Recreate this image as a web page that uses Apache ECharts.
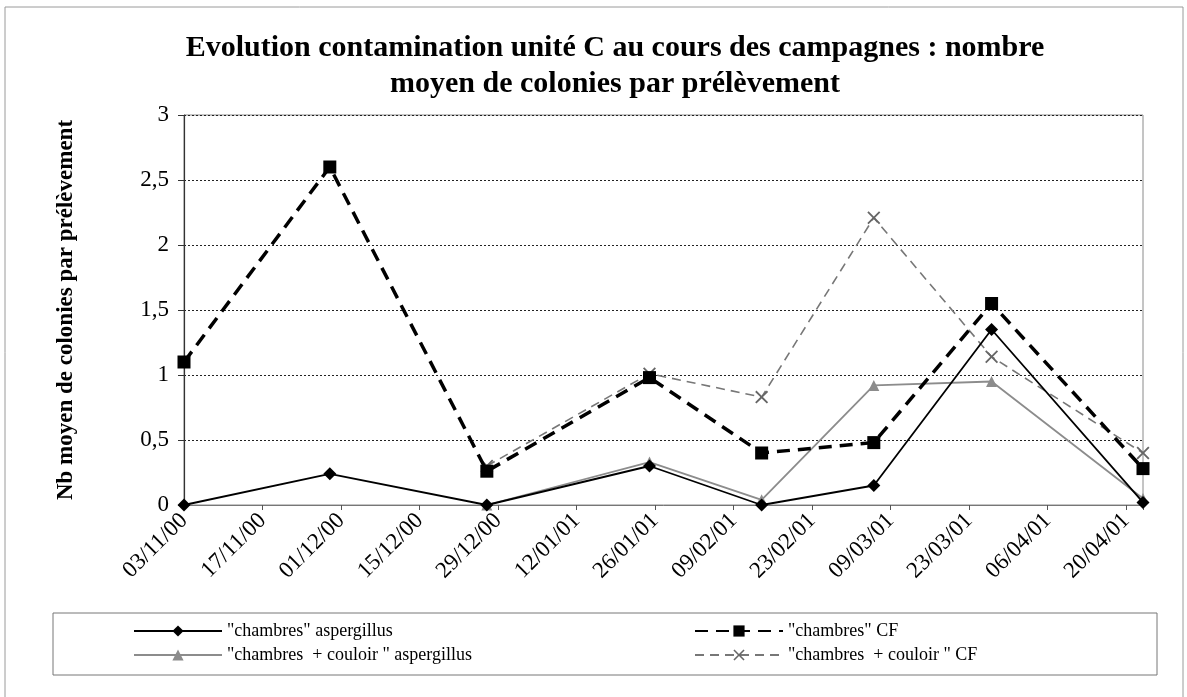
<!DOCTYPE html>
<html>
<head>
<meta charset="utf-8">
<script src="https://cdn.jsdelivr.net/npm/echarts@6/dist/echarts.min.js"></script>
<style>
html,body{margin:0;padding:0;background:#fff;}
#chart{width:1187px;height:697px;}
</style>
</head>
<body>
<div id="chart"></div>
<script>
// ---- data ----
const startDate = '2000-11-03';
const endDate = '2001-04-23';
const sampleDates = ['2000-11-03','2000-11-29','2000-12-27','2001-01-25','2001-02-14','2001-03-06','2001-03-27','2001-04-23'];
const tickLabels = ['03/11/00','17/11/00','01/12/00','15/12/00','29/12/00','12/01/01','26/01/01','09/02/01','23/02/01','09/03/01','23/03/01','06/04/01','20/04/01'];
const seriesNames = ['"chambres" aspergillus','"chambres" CF','"chambres  + couloir " aspergillus','"chambres  + couloir " CF'];
const chambresAsp = [0, 0.24, 0, 0.30, 0, 0.15, 1.35, 0.02];
const chambresCF = [1.10, 2.60, 0.26, 0.98, 0.40, 0.48, 1.55, 0.28];
const couloirAsp = [null, null, 0, 0.33, 0.04, 0.92, 0.95, 0.05];
const couloirCF = [null, null, 0.30, 1.01, 0.83, 2.21, 1.14, 0.40];

const DAY = 86400000;
function dayOffset(s){ return Math.round((Date.parse(s) - Date.parse(startDate)) / DAY); }
const xs = sampleDates.map(dayOffset);
const xMax = dayOffset(endDate);
function pairs(vals){ return vals.map((v,i)=>[xs[i], v]); }

const serif = 'Liberation Serif, Times New Roman, serif';
const xShape = 'path://M0,1L1,0L5,4L9,0L10,1L6,5L10,9L9,10L5,6L1,10L0,9L4,5Z';

const chart = echarts.init(document.getElementById('chart'));
chart.setOption({
  backgroundColor: '#fff',
  animation: false,
  title: {
    text: 'Evolution contamination unité C au cours des campagnes : nombre\nmoyen de colonies par prélèvement',
    left: 610, top: 25, textAlign: 'center',
    textStyle: { fontFamily: serif, fontWeight: 'bold', fontSize: 30, lineHeight: 36, color: '#000' }
  },
  graphic: [
    { type: 'rect', shape: { x: 5, y: 7, width: 1178, height: 700 }, style: { fill: 'none', stroke: '#9a9a9a', lineWidth: 1 }, silent: true, z: -1 },
    { type: 'rect', shape: { x: 53, y: 613, width: 1104, height: 62 }, style: { fill: 'none', stroke: '#777', lineWidth: 1 }, silent: true }
  ],
  grid: { left: 184, right: 44, top: 115, bottom: 192, show: true, borderColor: '#8a8a8a', borderWidth: 1 },
  legend: [
    { data: [seriesNames[0], seriesNames[2]], orient: 'vertical', left: 128, top: 617, itemWidth: 88, itemHeight: 14, itemGap: 6,
      textStyle: { fontFamily: serif, fontSize: 18, color: '#000' } },
    { data: [seriesNames[1], seriesNames[3]], orient: 'vertical', left: 689, top: 617, itemWidth: 88, itemHeight: 14, itemGap: 6,
      textStyle: { fontFamily: serif, fontSize: 18, color: '#000' } }
  ],
  xAxis: {
    type: 'value', min: 0, max: xMax, interval: 14,
    axisLine: { show: true, lineStyle: { color: '#777', width: 1 } },
    axisTick: { show: true, length: 5, lineStyle: { color: '#555' } },
    splitLine: { show: false },
    axisLabel: {
      rotate: 45, margin: 12, fontFamily: serif, fontSize: 23, color: '#000',
      formatter: function(v){ return (v % 14 === 0) ? (tickLabels[v/14] || '') : ''; }
    }
  },
  yAxis: {
    type: 'value', min: 0, max: 3, interval: 0.5,
    name: 'Nb moyen de colonies par prélèvement', nameLocation: 'middle', nameGap: 106,
    nameTextStyle: { fontFamily: serif, fontWeight: 'bold', fontSize: 23, color: '#000' },
    axisLine: { show: true, lineStyle: { color: '#333', width: 1.2 } },
    axisTick: { show: true, length: 6, lineStyle: { color: '#333' } },
    splitLine: { show: true, lineStyle: { color: '#222', type: [2, 2], width: 1 } },
    axisLabel: { fontFamily: serif, fontSize: 23, color: '#000', margin: 15,
      formatter: function(v){ return String(v).replace('.', ','); } }
  },
  series: [
    { name: seriesNames[0], type: 'line', data: pairs(chambresAsp), z: 4,
      symbol: 'diamond', symbolSize: 13,
      lineStyle: { color: '#000', width: 1.8 }, itemStyle: { color: '#000' } },
    { name: seriesNames[1], type: 'line', data: pairs(chambresCF), z: 5,
      symbol: 'rect', symbolSize: 13,
      lineStyle: { color: '#000', width: 3.5, type: [13, 8] }, itemStyle: { color: '#000' } },
    { name: seriesNames[2], type: 'line', data: pairs(couloirAsp), z: 3,
      symbol: 'triangle', symbolSize: 11,
      lineStyle: { color: '#8c8c8c', width: 1.8 }, itemStyle: { color: '#8c8c8c' } },
    { name: seriesNames[3], type: 'line', data: pairs(couloirCF), z: 3,
      symbol: xShape, symbolSize: 13,
      lineStyle: { color: '#777', width: 1.6, type: [9, 6] }, itemStyle: { color: '#666' } }
  ]
});
</script>
</body>
</html>
